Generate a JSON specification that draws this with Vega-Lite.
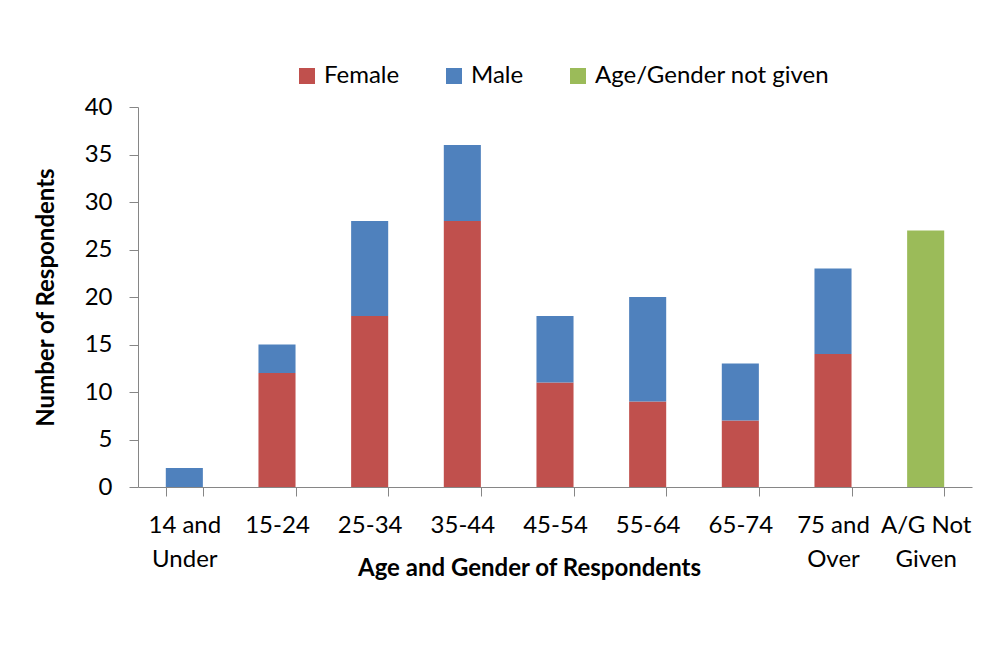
{
  "$schema": "https://vega.github.io/schema/vega-lite/v6.json",
  "width": 834,
  "height": 380,
  "autosize": {"type": "none"},
  "padding": {"left": 138, "top": 107, "right": 16, "bottom": 170},
  "background": "white",
  "config": {
    "view": {"stroke": null},
    "font": "Lato",
    "axis": {
      "domainColor": "#868686",
      "tickColor": "#868686",
      "labelColor": "#000000",
      "titleColor": "#000000",
      "labelFont": "Lato",
      "titleFont": "Lato",
      "labelFontSize": 24,
      "titleFontSize": 24,
      "titleFontWeight": "bold",
      "tickSize": 9,
      "grid": false
    }
  },
  "data": {
    "values": [
      {"age": "14 and Under", "group": "Female", "count": 0},
      {"age": "14 and Under", "group": "Male", "count": 2},
      {"age": "15-24", "group": "Female", "count": 12},
      {"age": "15-24", "group": "Male", "count": 3},
      {"age": "25-34", "group": "Female", "count": 18},
      {"age": "25-34", "group": "Male", "count": 10},
      {"age": "35-44", "group": "Female", "count": 28},
      {"age": "35-44", "group": "Male", "count": 8},
      {"age": "45-54", "group": "Female", "count": 11},
      {"age": "45-54", "group": "Male", "count": 7},
      {"age": "55-64", "group": "Female", "count": 9},
      {"age": "55-64", "group": "Male", "count": 11},
      {"age": "65-74", "group": "Female", "count": 7},
      {"age": "65-74", "group": "Male", "count": 6},
      {"age": "75 and Over", "group": "Female", "count": 14},
      {"age": "75 and Over", "group": "Male", "count": 9},
      {"age": "A/G Not Given", "group": "Age/Gender not given", "count": 27}
    ]
  },
  "mark": {"type": "bar"},
  "encoding": {
    "x": {
      "field": "age",
      "type": "nominal",
      "sort": ["14 and Under", "15-24", "25-34", "35-44", "45-54", "55-64", "65-74", "75 and Over", "A/G Not Given"],
      "scale": {"paddingInner": 0.6, "paddingOuter": 0.3},
      "axis": {
        "title": "Age and Gender of Respondents",
        "labelAngle": 0,
        "tickBand": "extent",
        "labelPadding": 17,
        "labelLineHeight": 34,
        "labelExpr": "split(replace(replace(datum.label, ' and ', ' and|'), 'Not ', 'Not|'), '|')",
        "titleX": 391,
        "titleY": 81,
        "titleAlign": "center",
        "titleAnchor": "start",
        "titleBaseline": "middle"
      }
    },
    "y": {
      "field": "count",
      "type": "quantitative",
      "stack": "zero",
      "scale": {"domain": [0, 40], "nice": false},
      "axis": {
        "title": "Number of Respondents",
        "values": [0, 5, 10, 15, 20, 25, 30, 35, 40],
        "labelPadding": 17,
        "titlePadding": 26
      }
    },
    "order": {"field": "group", "sort": "ascending"},
    "color": {
      "field": "group",
      "type": "nominal",
      "scale": {
        "domain": ["Female", "Male", "Age/Gender not given"],
        "range": ["#C0504D", "#4F81BD", "#9BBB59"]
      },
      "legend": {
        "title": null,
        "orient": "none",
        "direction": "horizontal",
        "legendX": 157,
        "legendY": -43,
        "symbolType": "square",
        "symbolSize": 256,
        "symbolStrokeWidth": 0,
        "labelFont": "Lato",
        "labelFontSize": 24,
        "labelColor": "#000000",
        "labelOffset": 5,
        "labelLimit": 400,
        "columnPadding": 42,
        "padding": 0
      }
    }
  }
}
